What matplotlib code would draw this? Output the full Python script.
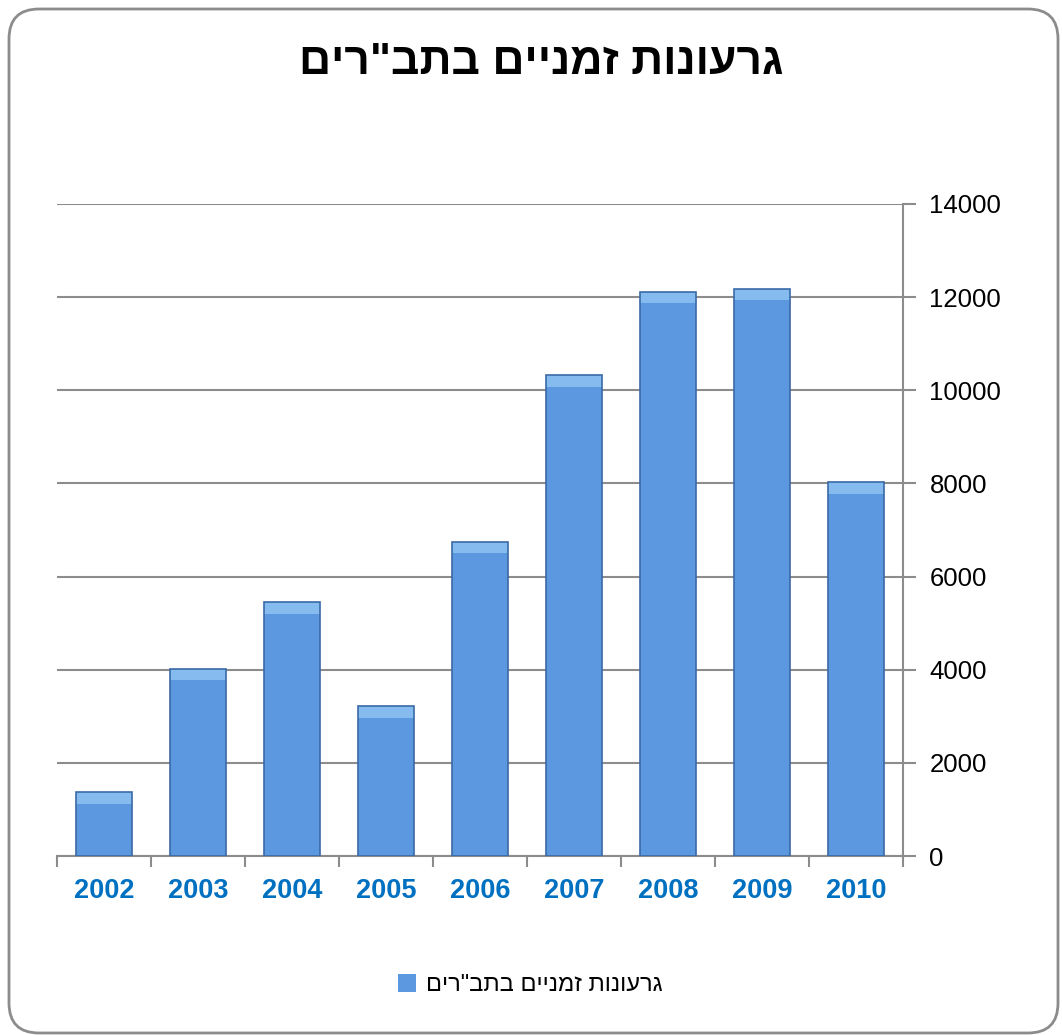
import matplotlib
matplotlib.use("Agg")
import matplotlib.pyplot as plt
from matplotlib.patches import FancyBboxPatch

years = ["2002", "2003", "2004", "2005", "2006", "2007", "2008", "2009", "2010"]
deficits = [1370, 4020, 5450, 3220, 6750, 10330, 12120, 12180, 8030]
y_ticks = [0, 2000, 4000, 6000, 8000, 10000, 12000, 14000]

title_he = 'גרעונות זמניים בתב"רים'
series_he = 'גרעונות זמניים בתב"רים'


def rtl(s):
    # matplotlib has no bidi support, so flip hebrew text by hand
    return s[::-1]


plt.rcParams['font.family'] = ['Liberation Sans', 'DejaVu Sans']

fig = plt.figure(figsize=(10.62, 10.35), dpi=100)
W, H = 1062, 1035

# rounded chart frame, placed in inches (1 in = 100 px here)
frame = FancyBboxPatch((0.09, (H - 1033) / 100), (1058 - 9) / 100, (1033 - 9) / 100,
                       boxstyle="round,pad=0,rounding_size=0.3",
                       transform=fig.dpi_scale_trans, fill=False,
                       edgecolor='#8c8c8c', linewidth=2.0, zorder=0)
fig.patches.append(frame)

ax = fig.add_axes([57 / W, (H - 856) / H, (903 - 57) / W, (856 - 204) / H])

x = list(range(len(years)))
ax.bar(x, deficits, width=0.6, color='#5b98df', edgecolor='none',
       zorder=3, label=rtl(series_he))
# light bevel at the top of each bar
bevel = 250
ax.bar(x, [bevel] * len(x), bottom=[v - bevel for v in deficits], width=0.6,
       color='#86bbf0', edgecolor='none', zorder=4)
ax.bar(x, deficits, width=0.6, fill=False, edgecolor='#3b6aa6',
       linewidth=1.2, zorder=5)

ax.set_xlim(-0.5, len(years) - 0.5)
ax.set_ylim(0, 14000)
ax.set_yticks(y_ticks)
ax.yaxis.tick_right()
ax.yaxis.set_label_position('right')
ax.tick_params(axis='y', which='major', length=9, width=1.5, color='#8c8c8c',
               labelsize=18.5, pad=10, labelcolor='black')
ax.grid(axis='y', color='#8c8c8c', linewidth=1.5, zorder=0)

ax.set_xticks(x)
ax.set_xticklabels(years, fontsize=19.5, fontweight='bold', color='#0070c0')
ax.set_xticks([i + 0.5 for i in range(-1, len(years))], minor=True)
ax.tick_params(axis='x', which='major', length=0, pad=16)
ax.tick_params(axis='x', which='minor', length=8, width=1.5, color='#8c8c8c')

for side in ['top', 'left']:
    ax.spines[side].set_visible(False)
ax.spines['bottom'].set_color('#8c8c8c')
ax.spines['bottom'].set_linewidth(1.5)
ax.spines['right'].set_color('#8c8c8c')
ax.spines['right'].set_linewidth(1.5)

fig.text(541 / W, 1 - 62 / H, rtl(title_he), ha='center', va='center',
         fontsize=32, fontweight='bold')

fig.legend(loc='center', bbox_to_anchor=(530 / W, 1 - 985 / H), frameon=False,
           fontsize=17, handlelength=0.8, handleheight=0.8, handletextpad=0.4,
           markerfirst=True)

fig.savefig('out.png', dpi=100)
